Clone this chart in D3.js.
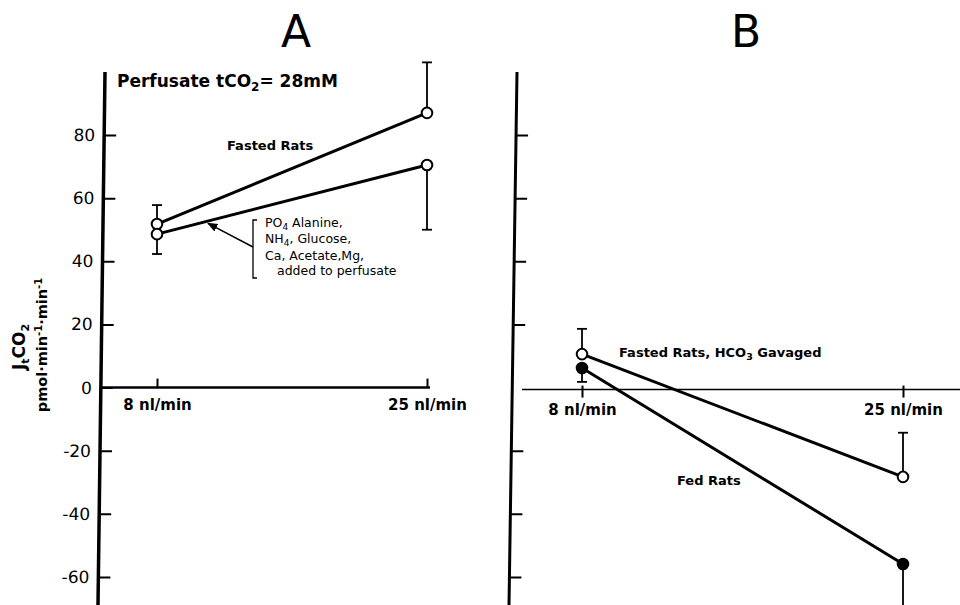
<!DOCTYPE html>
<html>
<head>
<meta charset="utf-8">
<script src="https://cdn.jsdelivr.net/npm/d3@7"></script>
<style>
  body { margin:0; background:#fff; }
  svg text { font-family: "DejaVu Sans", sans-serif; fill:#000; }
</style>
</head>
<body>
<div id="chart"></div>
<script>
// flow rates on the x axis
const flowRates = [8, 25];
const xLabels = ["8 nl/min", "25 nl/min"];
const yTicks = [80, 60, 40, 20, 0, -20, -40, -60];

// panel A  (perfusate tCO2 = 28mM)
const aFasted    = [51.8, 87];
const aFastedErr = [6, 16];      // drawn upward
const aAdded     = [48.6, 70.5];
const aAddedErr  = [6.3, 20.5];  // drawn downward

// panel B
const bGavaged    = [10.6, -28.3];
const bGavagedErr = [8, 14];     // upward
const bFed        = [6.2, -55.9];
const bFedErr     = [4.4, 25];   // downward

function render(){
  let width = 960, height = 605;
  let svg = d3.select("#chart").append("svg")
      .attr("width", width).attr("height", height)

  let y = d3.scaleLinear().domain([-60, 80]).range([577, 135])
  let xA = d3.scaleLinear().domain([8, 25]).range([157, 427])
  let xB = d3.scaleLinear().domain([8, 25]).range([582, 903])

  // the printed axes lean a little to the left going down
  let skew = a => Math.atan(a) * 180 / Math.PI
  let leanA = -7/533, leanB = -8/533
  let offA = 105 - leanA*72, offB = 517 - leanB*72

  // titles
  svg.append("text").attr("x", 296).attr("y", 47).attr("text-anchor","middle")
    .style("font-size","44px").text("A")
  svg.append("text").attr("x", 746).attr("y", 47).attr("text-anchor","middle")
    .style("font-size","44px").text("B")

  // y axes
  let yAxisA = d3.axisLeft(y).tickValues(yTicks).tickSize(-12).tickPadding(9).tickFormat(d => d)
  let gA = svg.append("g").attr("transform",`translate(${offA},0) skewX(${skew(leanA)})`).call(yAxisA)
  gA.select(".domain").remove()
  gA.selectAll("line").attr("stroke","#000").attr("stroke-width",2)
  gA.selectAll("text").style("font-size","17px").style("font-family","'DejaVu Sans'")
  gA.append("line").attr("x1",0).attr("x2",0).attr("y1",72).attr("y2",605)
    .attr("stroke","#000").attr("stroke-width",3.5)

  let yAxisB = d3.axisLeft(y).tickValues(yTicks.filter(d => d !== 0)).tickSize(-12).tickFormat("")
  let gB = svg.append("g").attr("transform",`translate(${offB},0) skewX(${skew(leanB)})`).call(yAxisB)
  gB.select(".domain").remove()
  gB.selectAll("line").attr("stroke","#000").attr("stroke-width",2)
  gB.append("line").attr("x1",0).attr("x2",0).attr("y1",72).attr("y2",605)
    .attr("stroke","#000").attr("stroke-width",3)

  // x axes
  svg.append("line").attr("x1",offA + leanA*y(0)).attr("x2",430).attr("y1",y(0)).attr("y2",y(0))
    .attr("stroke","#000").attr("stroke-width",2.5)
  let xAxisA = d3.axisBottom(xA).tickValues(flowRates).tickSize(-9).tickPadding(12)
    .tickFormat((d,i) => xLabels[i])
  let gxA = svg.append("g").attr("transform",`translate(0,${y(0)})`).call(xAxisA)
  gxA.select(".domain").remove()
  gxA.selectAll("line").attr("stroke","#000").attr("stroke-width",2)
  gxA.selectAll("text").style("font-size","15px").style("font-weight","bold").style("font-family","'DejaVu Sans'")

  svg.append("line").attr("x1",522).attr("x2",width).attr("y1",y(0)+2).attr("y2",y(0)+2)
    .attr("stroke","#000").attr("stroke-width",1.6)
  let xAxisB = d3.axisBottom(xB).tickValues(flowRates).tickSize(8).tickPadding(7)
    .tickFormat((d,i) => xLabels[i])
  let gxB = svg.append("g").attr("transform",`translate(0,${y(0)+2})`).call(xAxisB)
  gxB.select(".domain").remove()
  gxB.selectAll("line").attr("y1",-4).attr("stroke","#000").attr("stroke-width",2)
  gxB.selectAll("text").style("font-size","15px").style("font-weight","bold").style("font-family","'DejaVu Sans'")

  // series
  function series(x, vals, errs, dir, filled){
    let pts = vals.map((v,i) => ({x: flowRates[i], v: v, e: errs[i]}))
    let g = svg.append("g")
    // error bars
    pts.forEach(p => {
      let end = p.v + dir*p.e
      g.append("line").attr("x1",x(p.x)).attr("x2",x(p.x)).attr("y1",y(p.v)).attr("y2",y(end))
        .attr("stroke","#000").attr("stroke-width",1.8)
      g.append("line").attr("x1",x(p.x)-5).attr("x2",x(p.x)+5).attr("y1",y(end)).attr("y2",y(end))
        .attr("stroke","#000").attr("stroke-width",1.8)
    })
    let line = d3.line().x(d => x(d.x)).y(d => y(d.v))
    g.append("path").datum(pts).attr("d",line).attr("fill","none")
      .attr("stroke","#000").attr("stroke-width",3)
    g.selectAll("circle").data(pts).enter().append("circle")
      .attr("cx",d => x(d.x)).attr("cy",d => y(d.v)).attr("r",5.3)
      .attr("fill", filled ? "#000" : "#fff").attr("stroke","#000").attr("stroke-width",2)
  }
  series(xA, aFasted, aFastedErr, 1, false)
  series(xA, aAdded, aAddedErr, -1, false)
  series(xB, bGavaged, bGavagedErr, 1, false)
  series(xB, bFed, bFedErr, -1, true)

  // panel A labels
  let t = svg.append("text").attr("x",117).attr("y",87).style("font-size","17px").style("font-weight","bold")
  t.append("tspan").text("Perfusate tCO")
  t.append("tspan").attr("dy",4).style("font-size","12px").text("2")
  t.append("tspan").attr("dy",-4).text("= 28mM")

  svg.append("text").attr("x",227).attr("y",150).style("font-size","13px").style("font-weight","bold")
    .text("Fasted Rats")

  // annotation with bracket and arrow
  let defs = svg.append("defs")
  defs.append("marker").attr("id","arr").attr("viewBox","0 0 10 10").attr("refX",9).attr("refY",5)
    .attr("markerWidth",7).attr("markerHeight",7).attr("orient","auto")
    .append("path").attr("d","M0,1 L10,5 L0,9 Z").attr("fill","#000")
  let f = 0.185
  let tx = xA(flowRates[0] + f*(flowRates[1]-flowRates[0]))
  let ty = y(aAdded[0] + f*(aAdded[1]-aAdded[0]))
  svg.append("line").attr("x1",253).attr("y1",247).attr("x2",tx+1).attr("y2",ty+2)
    .attr("stroke","#000").attr("stroke-width",1.5).attr("marker-end","url(#arr)")
  svg.append("path").attr("d","M257,220 L253,220 L253,278 L257,278").attr("fill","none")
    .attr("stroke","#000").attr("stroke-width",1.3)
  let note = [
    [265, 227, "PO", "4", " Alanine,"],
    [265, 243, "NH", "4", ", Glucose,"],
    [265, 260, "Ca, Acetate,Mg,", "", ""],
    [277, 275, "added to perfusate", "", ""]
  ]
  note.forEach(n => {
    let tt = svg.append("text").attr("x",n[0]).attr("y",n[1]).style("font-size","12.5px")
    tt.append("tspan").text(n[2])
    if(n[3]){
      tt.append("tspan").attr("dy",3).style("font-size","9px").text(n[3])
      tt.append("tspan").attr("dy",-3).text(n[4])
    }
  })

  // panel B labels
  let g2 = svg.append("text").attr("x",619).attr("y",357).style("font-size","13px").style("font-weight","bold")
  g2.append("tspan").text("Fasted Rats, HCO")
  g2.append("tspan").attr("dy",3).style("font-size","9.5px").text("3")
  g2.append("tspan").attr("dy",-3).text(" Gavaged")
  svg.append("text").attr("x",677).attr("y",485).style("font-size","13px").style("font-weight","bold")
    .text("Fed Rats")

  // y axis title
  let l1 = svg.append("text").attr("transform","translate(25,347) rotate(-90)")
    .attr("text-anchor","middle").style("font-size","17px").style("font-weight","bold")
  l1.append("tspan").text("J")
  l1.append("tspan").attr("dy",4).style("font-size","11px").text("t")
  l1.append("tspan").attr("dy",-4).text("CO")
  l1.append("tspan").attr("dy",4).style("font-size","11px").text("2")
  let l2 = svg.append("text").attr("transform","translate(47,345) rotate(-90)")
    .attr("text-anchor","middle").style("font-size","14.5px").style("font-weight","bold")
  l2.append("tspan").text("pmol·min")
  l2.append("tspan").attr("dy",-5).style("font-size","10px").text("-1")
  l2.append("tspan").attr("dy",5).text("·min")
  l2.append("tspan").attr("dy",-5).style("font-size","10px").text("-1")
}

render()
</script>
</body>
</html>
